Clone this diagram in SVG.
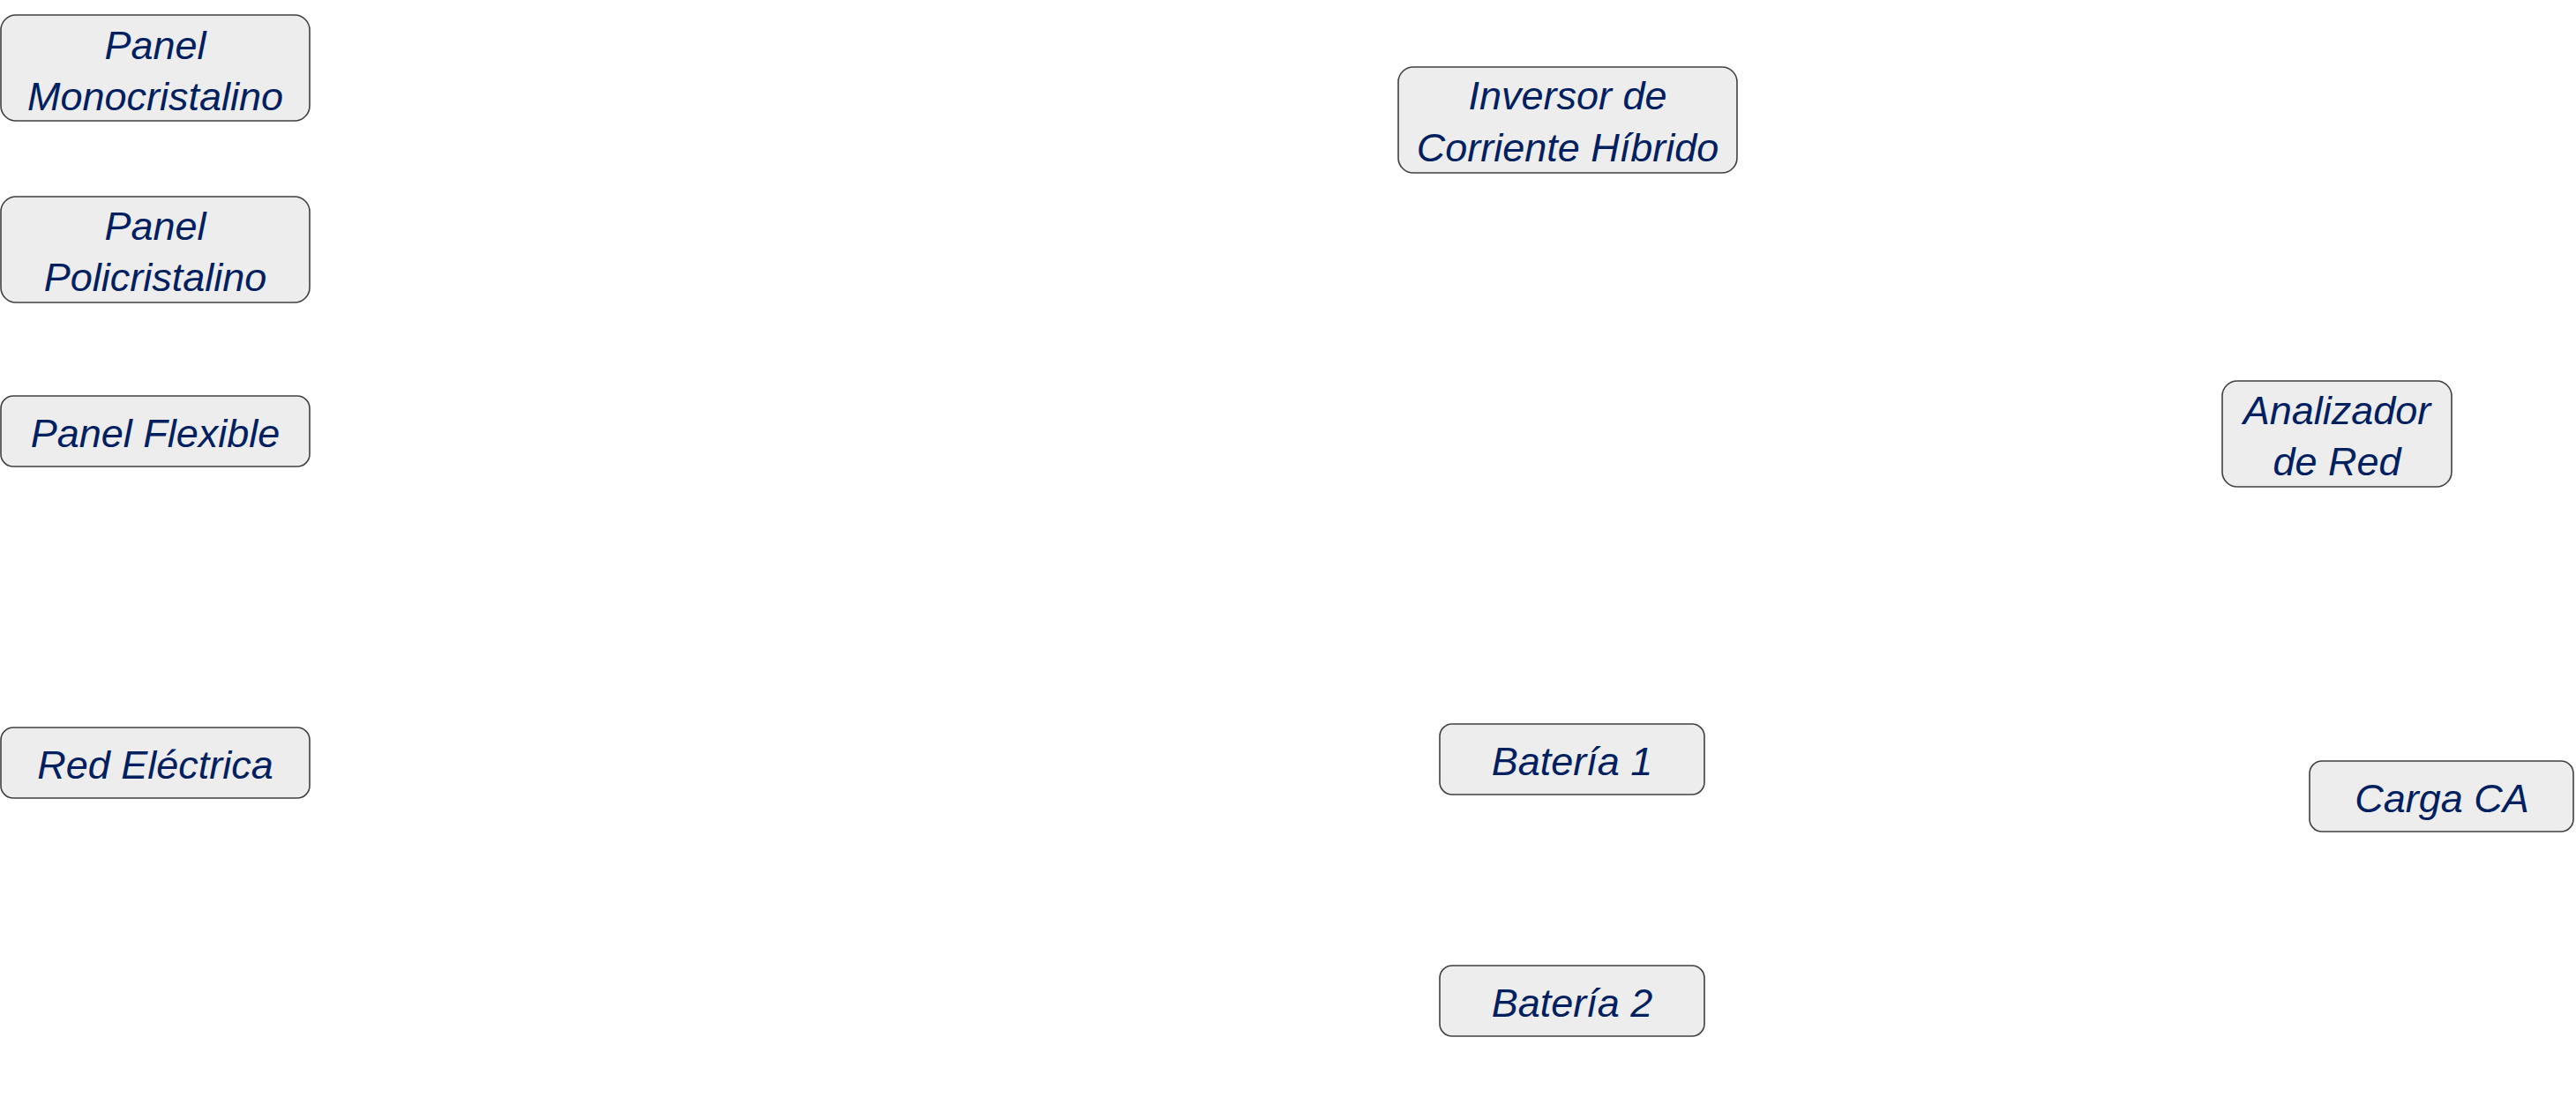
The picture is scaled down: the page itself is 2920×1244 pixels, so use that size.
<svg xmlns="http://www.w3.org/2000/svg" width="2920" height="1244" viewBox="0 0 2920 1244">
<style>
.box{fill:#EDEDED;stroke:#404040;stroke-width:1.6}
.lbl{font-family:"Liberation Sans",Arial,sans-serif;font-style:italic;font-size:45px;fill:#002060;text-anchor:middle}
</style>
<rect width="2920" height="1244" fill="#FFFFFF"/>
<g id="connectors"></g>
<g id="panel-mono">
<rect class="box" x="1" y="17" width="350" height="120" rx="17"/>
<text class="lbl" x="176" y="67">Panel</text>
<text class="lbl" x="176" y="125">Monocristalino</text>
</g>
<g id="panel-poli">
<rect class="box" x="1" y="223" width="350" height="120" rx="17"/>
<text class="lbl" x="176" y="272">Panel</text>
<text class="lbl" x="176" y="330">Policristalino</text>
</g>
<g id="panel-flex">
<rect class="box" x="1" y="449" width="350" height="80" rx="14"/>
<text class="lbl" x="176" y="507">Panel Flexible</text>
</g>
<g id="red-electrica">
<rect class="box" x="1" y="825" width="350" height="80" rx="14"/>
<text class="lbl" x="176" y="883">Red Eléctrica</text>
</g>
<g id="inversor">
<rect class="box" x="1585" y="76" width="384" height="120" rx="17"/>
<text class="lbl" x="1777" y="124">Inversor de</text>
<text class="lbl" x="1777" y="183">Corriente Híbrido</text>
</g>
<g id="analizador">
<rect class="box" x="2519" y="432" width="260" height="120" rx="17"/>
<text class="lbl" x="2649" y="481">Analizador</text>
<text class="lbl" x="2649" y="539">de Red</text>
</g>
<g id="bateria1">
<rect class="box" x="1632" y="821" width="300" height="80" rx="14"/>
<text class="lbl" x="1782" y="879">Batería 1</text>
</g>
<g id="bateria2">
<rect class="box" x="1632" y="1095" width="300" height="80" rx="14"/>
<text class="lbl" x="1782" y="1153">Batería 2</text>
</g>
<g id="carga-ca">
<rect class="box" x="2618" y="863" width="299" height="80" rx="14"/>
<text class="lbl" x="2768" y="921">Carga CA</text>
</g>
</svg>
